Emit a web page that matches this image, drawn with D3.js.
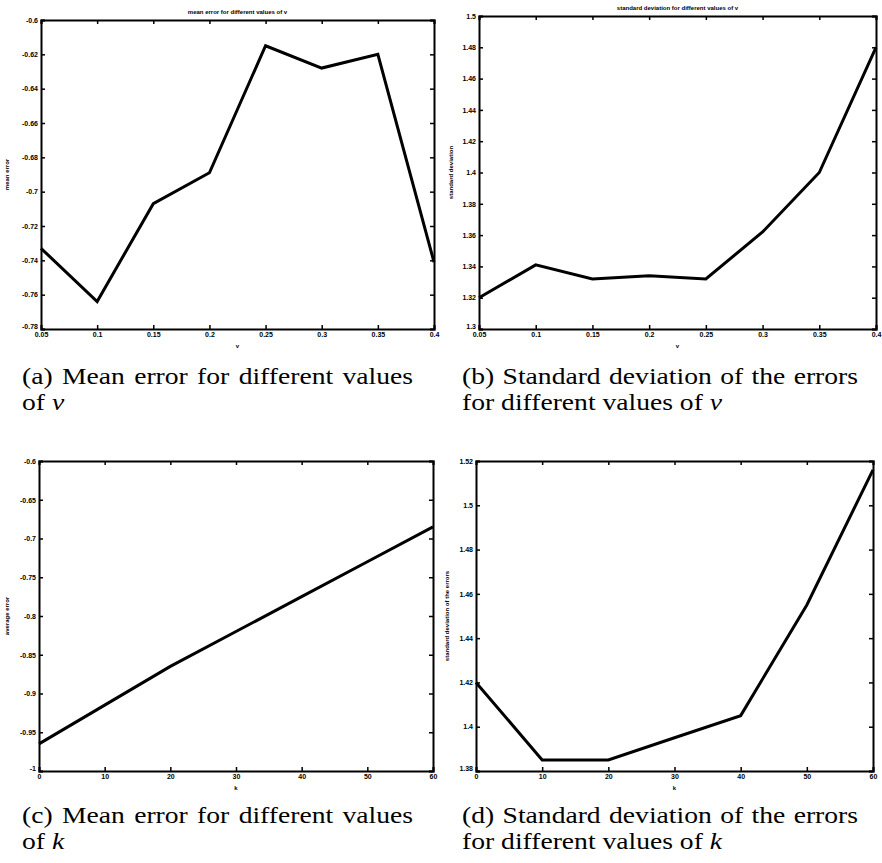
<!DOCTYPE html>
<html>
<head>
<meta charset="utf-8">
<script src="https://cdn.jsdelivr.net/npm/d3@7"></script>
<style>
  body { margin: 0; background: #fff; }
  svg { display: block; }
  .tick text { font-family: "Liberation Sans", Arial, sans-serif; font-weight: bold; font-size: 7px; fill: #000; }
  .lbl { font-family: "Liberation Sans", Arial, sans-serif; font-weight: bold; font-size: 6px; fill: #000; }
  .cap { font-family: "Liberation Serif", "DejaVu Serif", serif; font-size: 24px; fill: #000; }
</style>
</head>
<body>
<svg id="fig" width="882" height="863"></svg>
<script>
// ---------------- DATA ----------------
var nuVals = [0.05, 0.1, 0.15, 0.2, 0.25, 0.3, 0.35, 0.4];
var meanErrNu = [-0.733, -0.764, -0.707, -0.689, -0.615, -0.628, -0.620, -0.741];
var stdNu = [1.320, 1.341, 1.332, 1.334, 1.332, 1.362, 1.400, 1.480];

var kVals = [0, 10, 20, 30, 40, 50, 60];
var meanErrK = [-0.965, -0.915, -0.865, -0.820, -0.775, -0.730, -0.685];
var stdK = [1.420, 1.385, 1.385, 1.395, 1.405, 1.455, 1.516];

var nuTicks = [0.05, 0.1, 0.15, 0.2, 0.25, 0.3, 0.35, 0.4];
var kTicks = [0, 10, 20, 30, 40, 50, 60];
var meanNuTicks = [-0.78, -0.76, -0.74, -0.72, -0.7, -0.68, -0.66, -0.64, -0.62, -0.6];
var stdNuTicks = [1.3, 1.32, 1.34, 1.36, 1.38, 1.4, 1.42, 1.44, 1.46, 1.48, 1.5];
var meanKTicks = [-1, -0.95, -0.9, -0.85, -0.8, -0.75, -0.7, -0.65, -0.6];
var stdKTicks = [1.38, 1.4, 1.42, 1.44, 1.46, 1.48, 1.5, 1.52];

var svg = d3.select("#fig");
var fmt = function(d){ return String(+d.toFixed(2)); };
var capStretch = 1.15; // serif captions are wider in the original

// draw one matlab-ish panel
function drawPanel(p){
  var x = d3.scaleLinear().domain([p.xt[0], p.xt[p.xt.length-1]]).range([p.left, p.right]);
  var y = d3.scaleLinear().domain([p.yt[0], p.yt[p.yt.length-1]]).range([p.bottom, p.top]);
  var g = svg.append("g");

  // box + ticks on all sides
  g.append("g").attr("transform","translate(0,"+p.bottom+")")
    .call(d3.axisBottom(x).tickValues(p.xt).tickSize(-4).tickPadding(3).tickFormat(fmt));
  var ya = g.append("g").attr("transform","translate("+p.left+",0)")
    .call(d3.axisLeft(y).tickValues(p.yt).tickSize(-4).tickPadding(3).tickFormat(fmt));
  // lowest label sits a bit higher, like the original
  ya.selectAll(".tick text").filter(function(d){ return d === p.yt[0]; }).attr("dy","-0.1em");
  g.append("g").attr("transform","translate(0,"+p.top+")")
    .call(d3.axisTop(x).tickValues(p.xt).tickSize(-4).tickFormat(""));
  g.append("g").attr("transform","translate("+p.right+",0)")
    .call(d3.axisRight(y).tickValues(p.yt).tickSize(-4).tickFormat(""));
  g.selectAll(".domain").attr("stroke","#000").attr("stroke-width",2);
  g.selectAll(".tick line").attr("stroke","#000").attr("stroke-width",1.5);

  // the curve
  var line = d3.line().x(function(d){ return x(d[0]); }).y(function(d){ return y(d[1]); });
  g.append("path").datum(d3.zip(p.xs, p.ys))
    .attr("d", line).attr("fill","none").attr("stroke","#000")
    .attr("stroke-width",3).attr("stroke-linejoin","miter");

  var cx = (p.left + p.right)/2;
  if(p.title){
    g.append("text").attr("class","lbl").attr("x",cx).attr("y",p.top-6)
      .attr("text-anchor","middle").text(p.title);
  }
  g.append("text").attr("class","lbl").attr("x",cx).attr("y",p.bottom+19)
    .attr("text-anchor","middle").text(p.xlabel);
  g.append("text").attr("class","lbl")
    .attr("transform","translate("+p.ylx+","+((p.top+p.bottom)/2)+") rotate(-90)")
    .attr("text-anchor","middle").text(p.ylabel);

  // caption, two lines; first line justified by widening word gaps
  var cg = g.append("g").attr("transform","translate("+p.capx+","+p.capy+") scale("+capStretch+",1)");
  var target = p.capw / capStretch;
  var c1 = cg.append("text").attr("class","cap").text(p.cap1);
  var natural = c1.node().getComputedTextLength();
  var gaps = p.cap1.split(" ").length - 1;
  if(target > natural) c1.style("word-spacing", ((target - natural)/gaps) + "px");
  else c1.attr("textLength", target).attr("lengthAdjust", "spacingAndGlyphs");
  var c2 = cg.append("text").attr("class","cap").attr("y",26);
  c2.append("tspan").text(p.cap2);
  c2.append("tspan").attr("font-style","italic").text(p.capSym);
}

drawPanel({xs:nuVals, ys:meanErrNu, xt:nuTicks, yt:meanNuTicks,
  left:41, right:434, top:20, bottom:329, ylx:9,
  title:"mean error for different values of v", xlabel:"v", ylabel:"mean error",
  capx:22, capy:384, capw:391, cap1:"(a) Mean error for different values", cap2:"of ", capSym:"ν"});

drawPanel({xs:nuVals, ys:stdNu, xt:nuTicks, yt:stdNuTicks,
  left:479, right:876, top:16, bottom:329, ylx:453,
  title:"standard deviation for different values of v", xlabel:"v", ylabel:"standard deviation",
  capx:462, capy:384, capw:396, cap1:"(b) Standard deviation of the errors", cap2:"for different values of ", capSym:"ν"});

drawPanel({xs:kVals, ys:meanErrK, xt:kTicks, yt:meanKTicks,
  left:39, right:433, top:461, bottom:771, ylx:9,
  title:null, xlabel:"k", ylabel:"average error",
  capx:22, capy:823, capw:391, cap1:"(c) Mean error for different values", cap2:"of ", capSym:"k"});

drawPanel({xs:kVals, ys:stdK, xt:kTicks, yt:stdKTicks,
  left:476, right:873, top:461, bottom:771, ylx:449,
  title:null, xlabel:"k", ylabel:"standard deviation of the errors",
  capx:462, capy:823, capw:396, cap1:"(d) Standard deviation of the errors", cap2:"for different values of ", capSym:"k"});
</script>
</body>
</html>
